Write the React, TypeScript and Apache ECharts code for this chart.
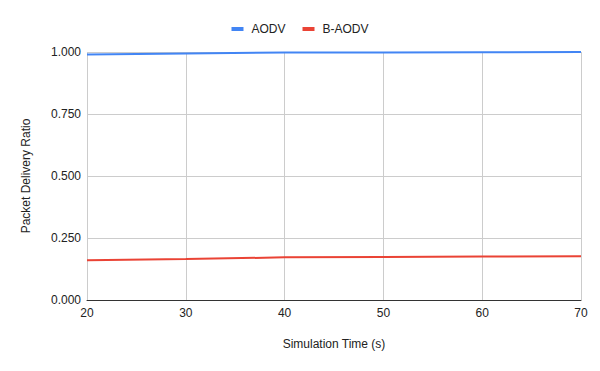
import React, { useEffect, useRef } from "react";
import * as echarts from "echarts";

const xValues = [20, 30, 40, 50, 60, 70];
const aodv = [0.99, 0.994, 0.998, 0.998, 0.999, 1.0];
const bAodv = [0.16, 0.165, 0.172, 0.173, 0.175, 0.176];
const seriesNames = ["AODV", "B-AODV"];
const colors = ["#4285F4", "#EA4335"];

export default function App() {
  const ref = useRef<HTMLDivElement>(null);
  useEffect(() => {
    const chart = echarts.init(ref.current!, null, { renderer: "svg" });
    const font = "'Liberation Sans', Arial, sans-serif";
    chart.setOption({
      animation: false,
      textStyle: { fontFamily: font },
      legend: {
        top: 18,
        left: "center",
        itemWidth: 12,
        itemHeight: 4,
        itemGap: 17,
        icon: "rect",
        textStyle: { fontFamily: font, fontSize: 12, color: "#222", padding: [0, 0, 0, 3] },
        data: seriesNames,
      },
      grid: { left: 87, right: 19, top: 52, bottom: 71 },
      xAxis: {
        type: "value",
        min: 20,
        max: 70,
        interval: 10,
        name: "Simulation Time (s)",
        nameLocation: "middle",
        nameGap: 38,
        nameTextStyle: { fontFamily: font, fontSize: 12, color: "#222" },
        axisLine: { show: true, lineStyle: { color: "#333", width: 1 } },
        axisTick: { show: false },
        axisLabel: { fontFamily: font, fontSize: 12, color: "#222", margin: 7 },
        splitLine: { show: true, lineStyle: { color: "#ccc" } },
      },
      yAxis: {
        type: "value",
        min: 0,
        max: 1,
        interval: 0.25,
        name: "Packet Delivery Ratio",
        nameLocation: "middle",
        nameGap: 55,
        nameTextStyle: { fontFamily: font, fontSize: 12, color: "#222" },
        axisLine: { show: false },
        axisTick: { show: false },
        axisLabel: {
          fontFamily: font,
          fontSize: 12,
          color: "#222",
          margin: 6,
          formatter: (v: number) => v.toFixed(3),
        },
        splitLine: { show: true, lineStyle: { color: "#ccc" } },
      },
      series: [
        {
          name: seriesNames[0],
          type: "line",
          data: xValues.map((x, i) => [x, aodv[i]]),
          showSymbol: false,
          lineStyle: { width: 2, color: colors[0] },
          itemStyle: { color: colors[0] },
        },
        {
          name: seriesNames[1],
          type: "line",
          data: xValues.map((x, i) => [x, bAodv[i]]),
          showSymbol: false,
          lineStyle: { width: 2, color: colors[1] },
          itemStyle: { color: colors[1] },
        },
      ],
    });
    return () => chart.dispose();
  }, []);
  return <div ref={ref} style={{ width: 600, height: 371, position: "absolute", left: 0, top: 0 }} />;
}
